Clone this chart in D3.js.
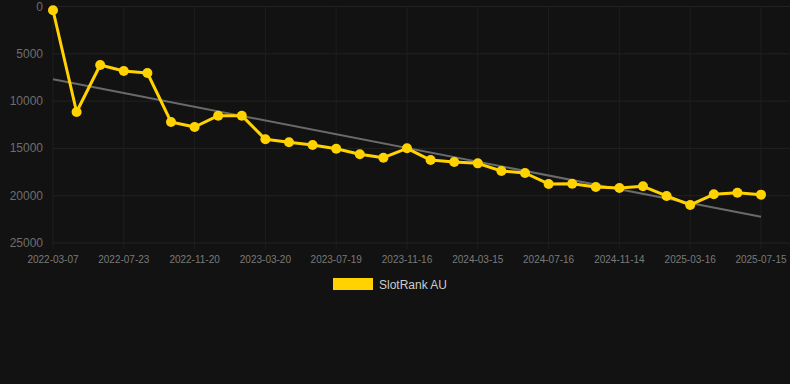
<!DOCTYPE html>
<html>
<head>
<meta charset="utf-8">
<script src="https://cdn.jsdelivr.net/npm/d3@7"></script>
<style>
  body { margin: 0; background: #121212; }
  svg { display: block; font-family: "Liberation Sans", Arial, sans-serif; }
</style>
</head>
<body>
<div id="chart"></div>
<script>
// categories (dates) and ranks
const dates = [
  "2022-03-07", "2022-04-20", "2022-06-02", "2022-07-23", "2022-09-02", "2022-10-12",
  "2022-11-20", "2022-12-30", "2023-02-08", "2023-03-20", "2023-04-29", "2023-06-09",
  "2023-07-19", "2023-08-28", "2023-10-07", "2023-11-16", "2023-12-26", "2024-02-04",
  "2024-03-15", "2024-04-25", "2024-06-05", "2024-07-16", "2024-08-25", "2024-10-05",
  "2024-11-14", "2024-12-24", "2025-02-03", "2025-03-16", "2025-04-25", "2025-06-05",
  "2025-07-15"
];
const ranks = [
  400, 11150, 6180, 6820, 7030, 12200,
  12740, 11540, 11540, 14040, 14350, 14640,
  15030, 15620, 15980, 14990, 16230, 16440,
  16580, 17390, 17600, 18760, 18730, 19080,
  19190, 19010, 20030, 20980, 19850, 19680,
  19890
];
const yTicks = [0, 5000, 10000, 15000, 20000, 25000];
const seriesName = "SlotRank AU";

const W = 790, H = 384;
const svg = d3.select("#chart").append("svg")
  .attr("width", W).attr("height", H);

const x = d3.scalePoint().domain(dates).range([53, 761]);
const y = d3.scaleLinear().domain([0, 25000]).range([6.5, 243]);

// grid
svg.append("g").selectAll("line").data(yTicks).enter().append("line")
  .attr("x1", 53).attr("x2", W)
  .attr("y1", d => y(d)).attr("y2", d => y(d))
  .attr("stroke", "#222").attr("stroke-width", 1);

const xTickVals = dates.filter((d, i) => i % 3 === 0);
svg.append("g").selectAll("line").data(xTickVals).enter().append("line")
  .attr("x1", d => x(d)).attr("x2", d => x(d))
  .attr("y1", y(0)).attr("y2", y(25000) + 6)
  .attr("stroke", "#1e1e1e").attr("stroke-width", 1);

// y labels
svg.append("g").selectAll("text").data(yTicks).enter().append("text")
  .attr("x", 43).attr("y", d => y(d) + 4)
  .attr("text-anchor", "end")
  .attr("font-size", 12).attr("fill", "#6e6e6e")
  .text(d => d);

// x labels
svg.append("g").selectAll("text").data(xTickVals).enter().append("text")
  .attr("x", d => x(d)).attr("y", 263)
  .attr("text-anchor", "middle")
  .attr("font-size", 10).attr("fill", "#7a7a7a")
  .text(d => d);

// trend line (least squares over index)
const n = ranks.length;
const mx = d3.mean(ranks, (d, i) => i), my = d3.mean(ranks);
let sxy = 0, sxx = 0;
ranks.forEach((v, i) => { sxy += (i - mx) * (v - my); sxx += (i - mx) * (i - mx); });
const slope = sxy / sxx, icpt = my - slope * mx;
svg.append("line")
  .attr("x1", x(dates[0])).attr("y1", y(icpt))
  .attr("x2", x(dates[n - 1])).attr("y2", y(icpt + slope * (n - 1)))
  .attr("stroke", "#6a6a6a").attr("stroke-width", 2);

// series
const line = d3.line()
  .x((d, i) => x(dates[i]))
  .y(d => y(d));
svg.append("path").datum(ranks)
  .attr("d", line)
  .attr("fill", "none")
  .attr("stroke", "#ffd200").attr("stroke-width", 3)
  .attr("stroke-linejoin", "round");

svg.append("g").selectAll("circle").data(ranks).enter().append("circle")
  .attr("cx", (d, i) => x(dates[i])).attr("cy", d => y(d))
  .attr("r", 5).attr("fill", "#ffd200");

// legend
const lg = svg.append("g").attr("transform", "translate(333,278)");
lg.append("rect").attr("width", 40).attr("height", 12).attr("fill", "#ffd200");
lg.append("text").attr("x", 46).attr("y", 10.5)
  .attr("font-size", 12).attr("fill", "#cccccc")
  .text(seriesName);
</script>
</body>
</html>
